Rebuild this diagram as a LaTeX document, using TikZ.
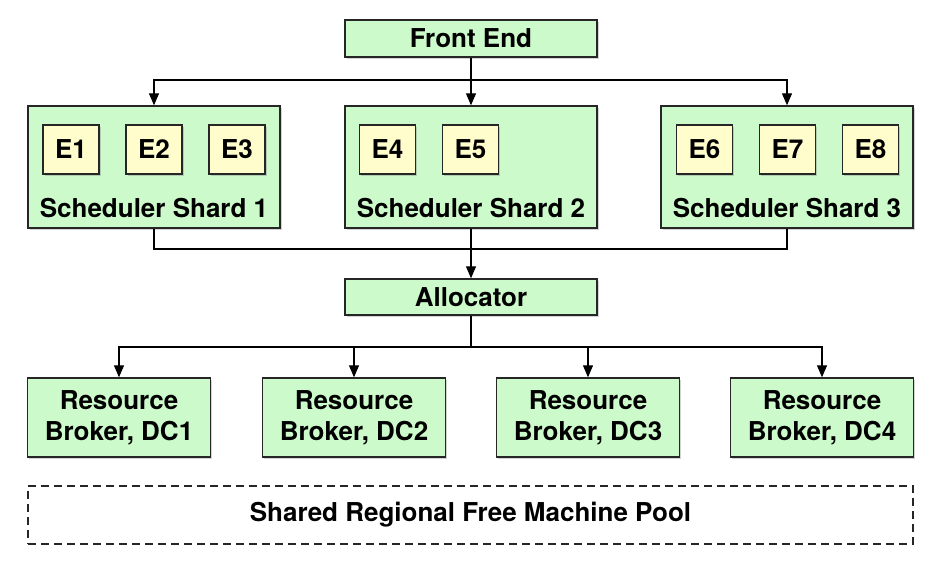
\documentclass[tikz,border=0pt]{standalone}
\usepackage{fontspec}
\setmainfont{TeX Gyre Heros}
\usepackage{tikz}
\usetikzlibrary{arrows.meta,shadows}
\definecolor{boxgreen}{HTML}{CCFACA}
\definecolor{boxyellow}{HTML}{FFFDCC}

\begin{document}
\begin{tikzpicture}[x=0.5pt,y=-0.5pt,
    every node/.style={font=\fontsize{13}{15.5}\selectfont\bfseries},
    block/.style={draw=black!85,line width=0.7pt,fill=boxgreen,inner sep=0pt,
        drop shadow={shadow xshift=0.8pt,shadow yshift=-0.8pt,opacity=0.35}},
    exec/.style={block,fill=boxyellow,minimum width=28pt,minimum height=24.5pt},
    wire/.style={line width=0.6pt},
    arr/.style={wire,-{Triangle[length=6pt,width=5pt]}}]
            \useasboundingbox (0,0) rectangle (948,572);
            \node[block,minimum width=126pt,minimum height=18.5pt] (fe) at (471,38.5) {Front End};
            \node[block,minimum width=126pt,minimum height=61pt] (s1) at (154,167) {};
            \node[block,minimum width=126pt,minimum height=61pt] (s2) at (471,167) {};
            \node[block,minimum width=126pt,minimum height=61pt] (s3) at (787,167) {};
            \node (l1) at (154,208) {Scheduler Shard 1};
            \node (l2) at (471,208) {Scheduler Shard 2};
            \node (l3) at (787,208) {Scheduler Shard 3};
            \node[exec] (e1) at (71,149.5) {E1};
            \node[exec] (e2) at (154,149.5) {E2};
            \node[exec] (e3) at (237,149.5) {E3};
            \node[exec] (e4) at (387.5,149.5) {E4};
            \node[exec] (e5) at (470.5,149.5) {E5};
            \node[exec] (e6) at (704.5,149.5) {E6};
            \node[exec] (e7) at (787.5,149.5) {E7};
            \node[exec] (e8) at (870.5,149.5) {E8};
            \node[block,minimum width=126pt,minimum height=18pt] (al) at (471,297) {Allocator};
            \node[block,align=center,minimum width=91.5pt,minimum height=39.5pt] (dc1) at (119,417.5) {Resource\\Broker, DC1};
            \node[block,align=center,minimum width=91.5pt,minimum height=39.5pt] (dc2) at (354,417.5) {Resource\\Broker, DC2};
            \node[block,align=center,minimum width=91.5pt,minimum height=39.5pt] (dc3) at (588,417.5) {Resource\\Broker, DC3};
            \node[block,align=center,minimum width=91.5pt,minimum height=39.5pt] (dc4) at (822,417.5) {Resource\\Broker, DC4};
            \node[draw=black!85,line width=0.6pt,dash pattern=on 4pt off 2.5pt,minimum width=442.5pt,minimum height=29pt] (pool) at (470.5,515) {Shared Regional Free Machine Pool};
            % front end to the shards
            \coordinate (split) at (471,80);
            \draw[wire] (fe) -- (split);
            \draw[arr] (split) -| (s1);
            \draw[arr] (split) -- (s2);
            \draw[arr] (split) -| (s3);
            % shards to the allocator
            \coordinate (merge) at (471,249);
            \draw[wire] (s1) |- (merge);
            \draw[wire] (s3) |- (merge);
            \draw[arr] (s2) -- (al);
            % allocator to the brokers
            \coordinate (fan) at (471,347);
            \draw[wire] (al) -- (fan);
            \draw[arr] (fan) -| (dc1);
            \draw[arr] (fan) -| (dc2);
            \draw[arr] (fan) -| (dc3);
            \draw[arr] (fan) -| (dc4);
        \end{tikzpicture}
\end{document}
